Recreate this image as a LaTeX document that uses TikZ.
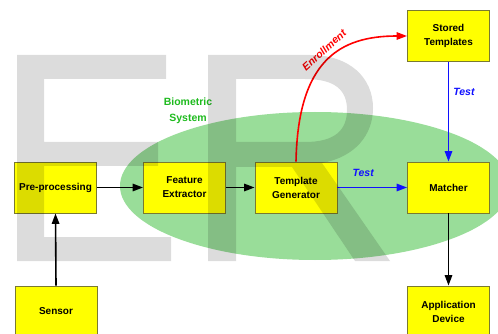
\documentclass[tikz,border=0pt]{standalone}
\usepackage{fontspec}
\setmainfont{Liberation Sans}
\usetikzlibrary{arrows.meta}
\definecolor{boxfill}{HTML}{FFFF00}
\definecolor{boxline}{HTML}{7A7A30}
\definecolor{ellgreen}{HTML}{99DD99}
\definecolor{txtgreen}{HTML}{1FBB1F}
\definecolor{arrblue}{HTML}{1010FF}
\tikzset{
 blk/.style={draw=boxline, line width=0.9pt, fill=boxfill, minimum width=82pt, minimum height=51pt, inner sep=0pt, align=center, font=\bfseries\fontsize{10}{14}\selectfont},
 arr/.style={line width=1.6pt, -{Triangle[length=10.5pt,width=7.5pt]}},
 lbl/.style={font=\bfseries\itshape\fontsize{10.5}{12}\selectfont, inner sep=0pt},
 ghost/.style={fill=black, opacity=0.137},
}
\begin{document}
\begin{tikzpicture}[x=1pt,y=-1pt]
\clip (0,0) rectangle (498,334);
\fill[white] (0,0) rectangle (498,334);
\fill[ellgreen] (315,186) ellipse [x radius=195, y radius=74];
\node[blk] (pre) at (55.5,187.5) {Pre-processing};
\node[blk] (feat) at (184.5,187.5) {Feature\\Extractor};
\node[blk] (temp) at (296,187.5) {Template\\Generator};
\node[blk] (match) at (448.5,187.5) {Matcher};
\node[blk] (stored) at (448.5,36) {Stored\\Templates};
\node[blk] (sensor) at (56,311.5) {Sensor};
\node[blk] (app) at (448.5,311.5) {Application\\Device};
\node[font=\bfseries\fontsize{10.5}{16}\selectfont, text=txtgreen, align=center] (bio) at (188,111) {Biometric\\System};
\draw[arr] (sensor.north) -- (pre.south);
\draw[arr] (pre) -- (feat);
\draw[arr] (feat) -- (temp);
\draw[arr, arrblue] (temp) -- node[lbl, pos=0.37, above=10pt, text=arrblue] (test1) {Test} (match);
\draw[arr, arrblue] (stored) -- node[lbl, pos=0.3, right=4pt, text=arrblue] (test2) {Test} (match);
\draw[arr] (match) -- (app);
\draw[arr, red] (temp.north) .. controls (298,60) and (340,36) .. (stored.west);
\node[lbl, text=red, rotate=42] (enr) at (324,50) {Enrollment};
\fill[ghost] (17,55) -- (166,55) -- (166,79) -- (44,79) -- (44,142) -- (158,142) -- (158,166) -- (44,166) -- (44,237) -- (171,237) -- (171,261) -- (17,261) -- cycle;
\fill[ghost, even odd rule] (208,261) -- (208,55) -- (310,55) .. controls (350,55) and (373,78) .. (373,108) .. controls (373,135) and (355,157) .. (322,163) -- (390,261) -- (355,261) -- (292,167) -- (236,167) -- (236,261) -- cycle
 (236,79) -- (305,79) .. controls (335,79) and (347,90) .. (347,110) .. controls (347,130) and (335,142) .. (305,142) -- (236,142) -- cycle;
\end{tikzpicture}
\end{document}
